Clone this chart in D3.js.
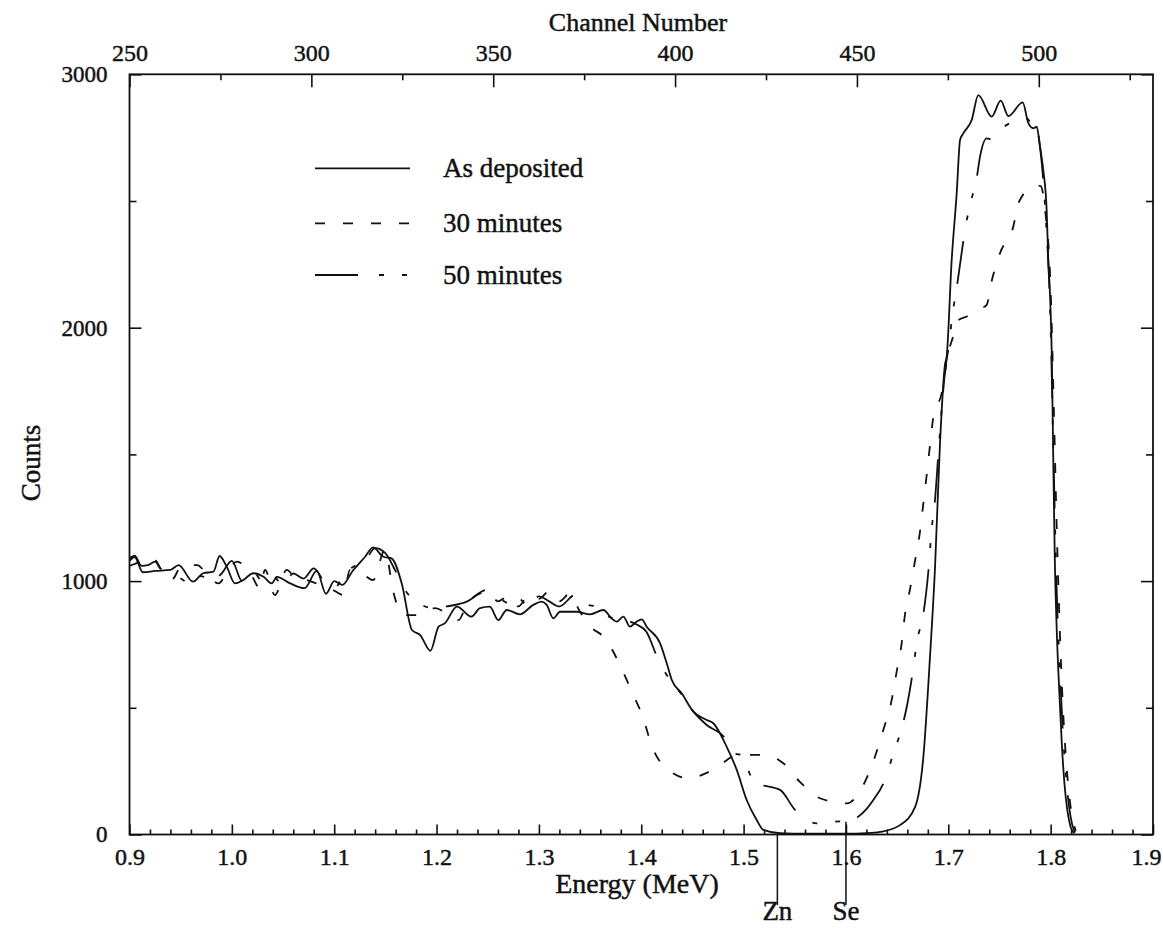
<!DOCTYPE html>
<html>
<head>
<meta charset="utf-8">
<script src="https://cdn.jsdelivr.net/npm/d3@7"></script>
<style>
  body { margin: 0; background: #fff; }
  svg { display: block; }
  text { font-family: "Liberation Serif", "Times New Roman", serif; fill: #111; stroke: #111; stroke-width: 0.45px; }
</style>
</head>
<body>
<svg id="chart" width="1163" height="930"></svg>
<script>
// ---- RBS spectra: counts vs. backscattered energy (MeV) ----

// As deposited
const asDepositedE = [0.900,0.905,0.913,0.925,0.940,0.948,0.962,0.972,0.982,0.988,0.995,1.003,1.011,1.021,1.031,1.039,1.044,1.057,1.071,1.083,1.092,1.100,1.108,1.118,1.130,1.138,1.148,1.156,1.166,1.176,1.184,1.194,1.202,1.208,1.220,1.234,1.2425,1.252,1.2603,1.2686,1.2815,1.2945,1.3027,1.3076,1.3141,1.3206,1.337,1.350,1.363,1.371,1.376,1.3825,1.389,1.3955,1.4005,1.4053,1.4183,1.4249,1.4298,1.4395,1.4509,1.464,1.4704,1.4835,1.4933,1.503,1.5128,1.5193,1.5356,1.560,1.600,1.620,1.6333,1.6528,1.6675,1.6756,1.6821,1.687,1.6919,1.6968,1.6984,1.7033,1.7082,1.7115,1.7147,1.7229,1.7293,1.7424,1.7512,1.7587,1.7727,1.7782,1.7831,1.7864,1.7896,1.7928,1.7961,1.7977,1.7993,1.801,1.8025,1.804,1.806,1.8085,1.811,1.8135,1.8165,1.8195,1.823];
const asDepositedCounts = [1080,1095,1035,1040,1044,1063,998,1031,1037,1099,1057,991,1004,1031,1017,991,1017,991,972,1040,950,1000,985,1040,1095,1133,1096,1090,991,807,787,725,820,833,899,860,893,899,846,886,869,906,919,906,853,879,879,869,886,853,840,860,820,840,849,820,755,676,610,557,485,452,439,346,255,136,57,18,5,3,3,5,10,37,108,305,700,1052,1545,1856,1886,2267,2530,2741,2767,2820,2918,2833,2896,2835,2889,2807,2787,2793,2714,2622,2464,2267,2137,1912,1500,1100,800,560,350,200,90,30,5];

// 30 minutes
const min30E = [0.900,0.910,0.923,0.932,0.941,0.951,0.966,0.977,0.987,0.996,1.005,1.018,1.0275,1.0324,1.042,1.0536,1.063,1.073,1.083,1.0927,1.101,1.109,1.1154,1.127,1.138,1.1496,1.1577,1.1675,1.1822,1.1985,1.2213,1.231,1.2506,1.260,1.270,1.280,1.290,1.300,1.310,1.320,1.330,1.340,1.350,1.3646,1.3792,1.3907,1.402,1.410,1.4264,1.446,1.470,1.4948,1.5193,1.5388,1.555,1.5746,1.6008,1.617,1.6283,1.6365,1.6447,1.6496,1.6545,1.6577,1.6626,1.6675,1.6723,1.6756,1.6789,1.682,1.6853,1.6936,1.700,1.705,1.710,1.718,1.7325,1.7375,1.7424,1.7505,1.7635,1.7684,1.7831,1.790,1.795,1.800,1.803,1.806,1.809,1.812,1.815,1.818,1.821,1.8245];
const min30Counts = [1060,1075,1090,1040,1004,1060,1063,1020,991,1040,1077,1031,972,1044,945,1044,1010,1004,990,978,960,945,1044,1030,1004,1123,958,866,866,893,846,919,958,920,940,900,945,930,960,920,950,880,822,774,669,564,459,353,255,222,255,314,314,281,208,143,123,195,307,412,531,644,756,869,968,1081,1194,1306,1419,1532,1644,1743,1900,1968,2030,2044,2077,2090,2184,2294,2399,2491,2557,2560,2450,2150,1700,1200,800,500,300,160,70,15];

// 50 minutes
const min50E = [0.900,0.905,0.912,0.918,0.925,0.930,0.940,0.950,0.960,0.970,0.980,0.990,1.000,1.010,1.020,1.030,1.040,1.050,1.060,1.070,1.080,1.090,1.100,1.110,1.120,1.130,1.140,1.150,1.1594,1.170,1.1806,1.1968,1.210,1.2295,1.249,1.262,1.275,1.280,1.290,1.300,1.310,1.320,1.3353,1.3402,1.3532,1.3597,1.3662,1.375,1.385,1.395,1.405,1.4167,1.4298,1.440,1.450,1.464,1.4818,1.490,1.4966,1.503,1.511,1.5177,1.5356,1.5503,1.5714,1.594,1.6008,1.610,1.620,1.6267,1.638,1.6463,1.6528,1.6594,1.6658,1.6691,1.6756,1.6805,1.6838,1.687,1.6903,1.6968,1.7017,1.7033,1.7075,1.713,1.7163,1.7212,1.7277,1.731,1.7375,1.744,1.749,1.7505,1.7635,1.7766,1.782,1.786,1.790,1.795,1.800,1.803,1.806,1.809,1.812,1.815,1.818,1.821,1.824];
const min50Counts = [1090,1100,1060,1063,1077,1050,1030,1010,990,1020,1000,1030,1080,1000,1040,1000,1020,985,1030,1010,1050,1000,970,1030,1060,1080,1130,1110,1044,960,919,893,900,919,965,930,906,932,900,940,920,900,945,912,902,893,866,850,845,830,800,689,600,550,490,432,380,320,315,268,202,195,176,97,44,52,51,65,100,136,215,319,397,503,657,756,869,1038,1207,1320,1503,1827,1964,2030,2137,2294,2386,2484,2590,2675,2747,2741,2761,2774,2813,2826,2800,2790,2700,2450,2000,1450,950,650,400,230,110,40,8];

// Axis ticks
const energyTicks = [0.9,1.0,1.1,1.2,1.3,1.4,1.5,1.6,1.7,1.8,1.9];
const channelTicks = [250,300,350,400,450,500];
const channelMinorTicks = [275,325,375,425,475,525];
const countTicks = [0,1000,2000,3000];
const countMinorTicks = [500,1500,2500];
const channelDomain = [250, 531.4];   // channels spanning 0.9–1.9 MeV

// Element surface-edge markers
const markerNames = ["Zn", "Se"];
const markerEnergies = [1.533, 1.600];
const markerTopCounts = [0, 50];

const seriesNames = ["As deposited", "30 minutes", "50 minutes"];
const seriesDash = [null, "10,18", "43,21,5,18,5,18"];

// ---- layout ----
const svg = d3.select("#chart");
const plotLeft = 129.5, plotRight = 1153, plotTop = 74.3, plotBottom = 834.5;

const x = d3.scaleLinear().domain([0.9, 1.9]).range([plotLeft, plotRight]);
const xTop = d3.scaleLinear().domain(channelDomain).range([plotLeft, plotRight]);
const y = d3.scaleLinear().domain([0, 3000]).range([plotBottom, plotTop]);

const root = svg.append("g");

const axisStyle = g => {
  g.select(".domain").remove();
  g.selectAll("line").attr("stroke", "#111").attr("stroke-width", 1.6);
};
const labelStyle = size => g => g.selectAll("text")
  .attr("font-size", size).attr("fill", "#111");

// bottom axis (energy), ticks pointing inward
const minorEnergy = d3.range(0, 50).map(i => +(0.9 + i * 0.02).toFixed(2))
  .filter(v => Math.abs(v * 10 - Math.round(v * 10)) > 1e-6);

root.append("g").attr("transform", `translate(0,${plotBottom})`)
  .call(d3.axisBottom(x).tickValues(energyTicks).tickSize(-10).tickSizeOuter(0)
        .tickPadding(13).tickFormat(d3.format(".1f")))
  .call(axisStyle)
  .call(labelStyle(24))
  // last label sits at the page edge: keep it inside
  .call(g => g.selectAll(".tick").filter(d => d === 1.9).select("text")
        .attr("text-anchor", "end").attr("x", 8));
root.append("g").attr("transform", `translate(0,${plotBottom})`)
  .call(d3.axisBottom(x).tickValues(minorEnergy).tickSize(-5).tickSizeOuter(0).tickFormat(""))
  .call(axisStyle);

// top axis (channel number)
root.append("g").attr("transform", `translate(0,${plotTop})`)
  .call(d3.axisTop(xTop).tickValues(channelTicks).tickSize(-13).tickSizeOuter(0).tickPadding(13))
  .call(axisStyle)
  .call(labelStyle(24));
root.append("g").attr("transform", `translate(0,${plotTop})`)
  .call(d3.axisTop(xTop).tickValues(channelMinorTicks).tickSize(-6).tickSizeOuter(0).tickFormat(""))
  .call(axisStyle);

// left axis (counts)
root.append("g").attr("transform", `translate(${plotLeft},0)`)
  .call(d3.axisLeft(y).tickValues(countTicks).tickSize(-12).tickSizeOuter(0)
        .tickPadding(22).tickFormat(d3.format("d")))
  .call(axisStyle)
  .call(labelStyle(23));
root.append("g").attr("transform", `translate(${plotLeft},0)`)
  .call(d3.axisLeft(y).tickValues(countMinorTicks).tickSize(-7).tickSizeOuter(0).tickFormat(""))
  .call(axisStyle);

// right axis, ticks only
root.append("g").attr("transform", `translate(${plotRight},0)`)
  .call(d3.axisRight(y).tickValues(countTicks).tickSize(-12).tickSizeOuter(0).tickFormat(""))
  .call(axisStyle);
root.append("g").attr("transform", `translate(${plotRight},0)`)
  .call(d3.axisRight(y).tickValues(countMinorTicks).tickSize(-7).tickSizeOuter(0).tickFormat(""))
  .call(axisStyle);

// frame
root.append("rect")
  .attr("x", plotLeft).attr("y", plotTop)
  .attr("width", plotRight - plotLeft).attr("height", plotBottom - plotTop)
  .attr("fill", "none").attr("stroke", "#111").attr("stroke-width", 1.8);

// spectra
const line = d3.line()
  .x(d => x(d[0])).y(d => y(d[1]))
  .curve(d3.curveMonotoneX);

const series = [
  d3.zip(asDepositedE, asDepositedCounts),
  d3.zip(min30E, min30Counts),
  d3.zip(min50E, min50Counts)
];

root.append("g").selectAll("path").data(series).join("path")
  .attr("d", line)
  .attr("fill", "none")
  .attr("stroke", "#111")
  .attr("stroke-width", 1.8)
  .attr("stroke-linejoin", "round")
  .attr("stroke-dasharray", (d, i) => seriesDash[i]);

// Zn / Se edge markers below the energy axis
const markerBottom = 905;
root.append("g").selectAll("line").data(markerEnergies).join("line")
  .attr("x1", d => x(d)).attr("x2", d => x(d))
  .attr("y1", (d, i) => y(markerTopCounts[i])).attr("y2", markerBottom)
  .attr("stroke", "#111").attr("stroke-width", 1.5);
root.append("g").selectAll("text").data(markerEnergies).join("text")
  .attr("x", d => x(d)).attr("y", 920)
  .attr("text-anchor", "middle").attr("font-size", 27)
  .text((d, i) => markerNames[i]);

// axis titles
root.append("text").attr("x", 638).attr("y", 31)
  .attr("text-anchor", "middle").attr("font-size", 26).text("Channel Number");
root.append("text").attr("x", 637).attr("y", 893)
  .attr("text-anchor", "middle").attr("font-size", 28).text("Energy (MeV)");
root.append("text")
  .attr("transform", "translate(31,463) rotate(-90)")
  .attr("dy", "0.35em")
  .attr("text-anchor", "middle").attr("font-size", 27).text("Counts");

// legend
const legendY = [168.3, 223.3, 275];
const legend = root.append("g");
seriesNames.forEach((name, i) => {
  legend.append("line")
    .attr("x1", 315).attr("x2", 410)
    .attr("y1", legendY[i]).attr("y2", legendY[i])
    .attr("stroke", "#111").attr("stroke-width", 1.8)
    .attr("stroke-dasharray", seriesDash[i]);
  legend.append("text")
    .attr("x", 443).attr("y", legendY[i] + 9)
    .attr("font-size", 27).text(name);
});
</script>
</body>
</html>
